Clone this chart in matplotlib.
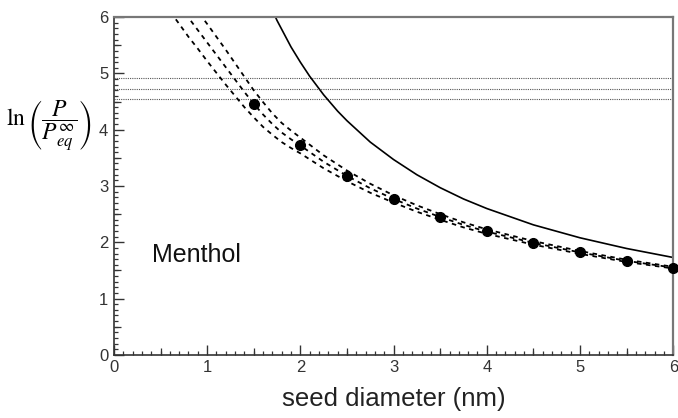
import matplotlib
matplotlib.use("Agg")
import matplotlib.pyplot as plt
from matplotlib.ticker import MultipleLocator, FixedLocator

plt.rcParams['font.family'] = ['Liberation Sans', 'DejaVu Sans']
plt.rcParams['mathtext.fontset'] = 'stix'

# ---- data ----
seed_d = [1.5, 2.0, 2.5, 3.0, 3.5, 4.0, 4.5, 5.0, 5.5, 6.0]
seed_ln = [4.45, 3.72, 3.18, 2.77, 2.45, 2.20, 1.99, 1.83, 1.67, 1.55]

dash_d = [0.55, 0.7, 0.8, 0.9, 1.0, 1.1, 1.2, 1.3, 1.4, 1.5, 1.6, 1.7, 1.8, 1.9,
          2.0, 2.25, 2.5, 2.75, 3.0, 3.25, 3.5, 3.75, 4.0, 4.5, 5.0, 5.5, 6.0]
dash_low = [6.22, 5.88, 5.65, 5.44, 5.22, 5.01, 4.80, 4.60, 4.40, 4.22, 4.05, 3.91,
            3.78, 3.675, 3.58, 3.315, 3.085, 2.88, 2.705, 2.543, 2.40, 2.265, 2.15,
            1.958, 1.795, 1.65, 1.535]
dash_mid = [6.56, 6.22, 5.99, 5.77, 5.55, 5.33, 5.11, 4.89, 4.67, 4.46, 4.27, 4.10,
            3.95, 3.83, 3.72, 3.43, 3.18, 2.96, 2.77, 2.60, 2.45, 2.31, 2.19, 1.99,
            1.82, 1.67, 1.55]
dash_high = [6.90, 6.56, 6.33, 6.10, 5.88, 5.65, 5.42, 5.18, 4.94, 4.70, 4.49, 4.29,
             4.12, 3.985, 3.86, 3.545, 3.275, 3.04, 2.835, 2.657, 2.50, 2.355, 2.23,
             2.022, 1.845, 1.69, 1.565]

solid_d = [1.6, 1.65, 1.75, 1.9, 2.0, 2.1, 2.25, 2.4, 2.5, 2.75, 3.0, 3.25, 3.5,
           3.75, 4.0, 4.5, 5.0, 5.5, 6.0]
solid_ln = [6.50, 6.30, 5.94, 5.47, 5.20, 4.95, 4.62, 4.33, 4.16, 3.78, 3.47, 3.20,
            2.97, 2.77, 2.60, 2.31, 2.08, 1.89, 1.73]

hlines_ln = [4.92, 4.72, 4.54]

x_ticks = [0, 1, 2, 3, 4, 5, 6]
y_ticks = [0, 1, 2, 3, 4, 5, 6]
half_ticks = [0.5, 1.5, 2.5, 3.5, 4.5, 5.5]

# ---- figure ----
fig = plt.figure(figsize=(6.78, 4.18), dpi=100)
ax = fig.add_axes([0.168, 0.151, 0.825, 0.808])

for h in hlines_ln:
    ax.axhline(h, color='#555555', lw=0.8, ls=(0, (1, 1)), zorder=1)

for ys in (dash_low, dash_mid, dash_high):
    ax.plot(dash_d, ys, color='black', lw=1.3, ls=(0, (2.5, 2.5)), zorder=2)

ax.plot(solid_d, solid_ln, color='black', lw=1.2, zorder=2)
ax.plot(seed_d, seed_ln, 'o', color='black', ms=7, clip_on=False, zorder=3)

ax.text(0.41, 1.78, 'Menthol', fontsize=18, va='center', ha='left', color='#111111')

ax.set_xlim(0, 6)
ax.set_ylim(0, 6)
ax.xaxis.set_major_locator(FixedLocator(x_ticks))
ax.yaxis.set_major_locator(FixedLocator(y_ticks))
ax.xaxis.set_minor_locator(MultipleLocator(0.1))
ax.yaxis.set_minor_locator(MultipleLocator(0.1))
ax.tick_params(which='both', direction='in', top=False, right=False, color='#333333')
ax.tick_params(which='major', length=7, width=1.0, labelsize=12, labelcolor='#333333', pad=4)
ax.tick_params(which='minor', length=3, width=0.9)

# half-unit ticks
sx = ax.secondary_xaxis('bottom')
sx.set_xticks(half_ticks)
sx.tick_params(direction='in', length=5, width=0.9, color='#333333', labelbottom=False)
sx.spines['bottom'].set_visible(False)
sy = ax.secondary_yaxis('left')
sy.set_yticks(half_ticks)
sy.tick_params(direction='in', length=5, width=0.9, color='#333333', labelleft=False)
sy.spines['left'].set_visible(False)

for side in ('left', 'bottom'):
    ax.spines[side].set_color('#333333')
    ax.spines[side].set_linewidth(1.2)
for side in ('top', 'right'):
    ax.spines[side].set_color('#777777')
    ax.spines[side].set_linewidth(1.6)

ax.set_xlabel('seed diameter (nm)', fontsize=18.5, color='#222222', labelpad=8)
fig.text(0.072, 0.70, r'$\ln\left(\dfrac{P}{P_{eq}^{\infty}}\right)$',
         fontsize=17, ha='center', va='center')

fig.savefig('out.png', dpi=100)
